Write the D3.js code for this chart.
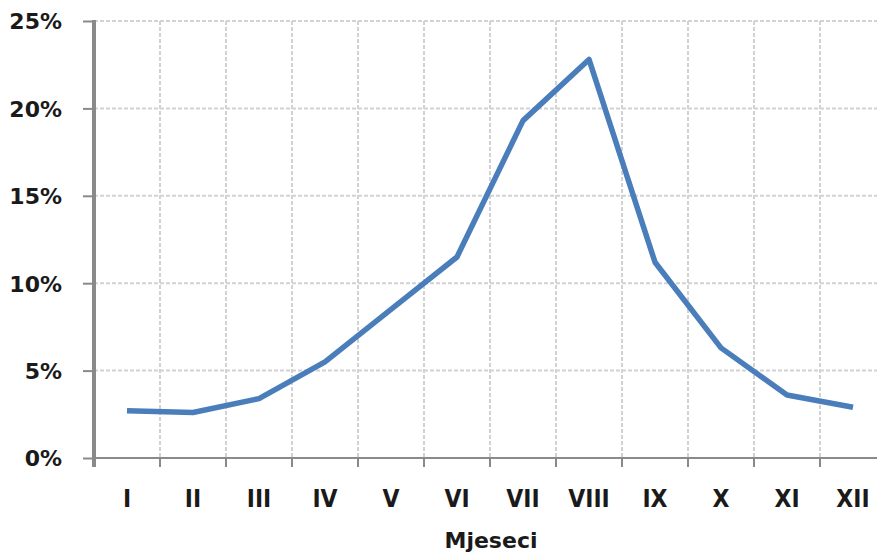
<!DOCTYPE html>
<html>
<head>
<meta charset="utf-8">
<script src="https://cdn.jsdelivr.net/npm/d3@7"></script>
<style>
  html, body { margin: 0; padding: 0; background: #fff; }
  svg { display: block; }
  text { font-family: "DejaVu Sans", sans-serif; font-weight: bold; fill: #1a1a1a; }
</style>
</head>
<body>
<svg id="chart" width="877" height="555"></svg>
<script>
const months = ["I","II","III","IV","V","VI","VII","VIII","IX","X","XI","XII"];
const shares = [2.7, 2.6, 3.4, 5.5, 8.5, 11.5, 19.3, 22.8, 11.2, 6.3, 3.6, 2.9];
const yTicks = [0, 5, 10, 15, 20, 25];
const xTitle = "Mjeseci";

(function () {
const svg = d3.select("#chart");
const mLeft = 94, mRight = 886, mTop = 21, mBottom = 458;

const x = d3.scaleBand().domain(months).range([mLeft, mRight]).padding(0);
const y = d3.scaleLinear().domain([0, 25]).range([mBottom, mTop]);

// horizontal gridlines
svg.append("g").selectAll("line").data(yTicks.filter(d => d > 0)).join("line")
  .attr("x1", mLeft).attr("x2", 877)
  .attr("y1", d => y(d)).attr("y2", d => y(d))
  .attr("stroke", "#d2d2d2").attr("stroke-width", 2).attr("stroke-dasharray", "4,2");

// vertical gridlines at band boundaries
const bounds = months.map(m => x(m) + x.bandwidth());
svg.append("g").selectAll("line").data(bounds).join("line")
  .attr("x1", d => d).attr("x2", d => d)
  .attr("y1", mTop).attr("y2", mBottom)
  .attr("stroke", "#d2d2d2").attr("stroke-width", 2).attr("stroke-dasharray", "4,2");

// y axis
const yAxis = svg.append("g").attr("transform", `translate(${mLeft},0)`)
  .call(d3.axisLeft(y).tickValues(yTicks).tickFormat(d => d + "%").tickSize(11).tickPadding(21));
yAxis.select(".domain").remove();
yAxis.selectAll(".tick line").attr("stroke", "#8a8a8a").attr("stroke-width", 2);
yAxis.selectAll("text").style("font-size", "22px").style("font-family", "DejaVu Sans").style("font-weight", "bold")
  .attr("fill", "#1a1a1a").attr("dy", "0.36em");
svg.append("line").attr("x1", mLeft).attr("x2", mLeft).attr("y1", mTop - 1).attr("y2", mBottom + 9)
  .attr("stroke", "#8a8a8a").attr("stroke-width", 4);

// x axis
svg.append("line").attr("x1", mLeft).attr("x2", 877).attr("y1", mBottom).attr("y2", mBottom)
  .attr("stroke", "#8a8a8a").attr("stroke-width", 2);
svg.append("g").selectAll("line").data(bounds).join("line")
  .attr("x1", d => d).attr("x2", d => d).attr("y1", mBottom).attr("y2", mBottom + 9)
  .attr("stroke", "#8a8a8a").attr("stroke-width", 2);
svg.append("g").selectAll("text").data(months).join("text")
  .attr("x", d => x(d) + x.bandwidth() / 2).attr("y", 507)
  .attr("text-anchor", "middle").style("font-size", "22px")
  .attr("transform", "translate(0,507) scale(1,1.12) translate(0,-507)")
  .text(d => d);

svg.append("text").attr("x", 491).attr("y", 548).attr("text-anchor", "middle")
  .style("font-size", "22px").text(xTitle);

// line
const line = d3.line().x((d, i) => x(months[i]) + x.bandwidth() / 2).y(d => y(d));
svg.append("path").datum(shares).attr("d", line)
  .attr("fill", "none").attr("stroke", "#4a7ebb").attr("stroke-width", 5.5)
  .attr("stroke-linejoin", "round").attr("stroke-linecap", "butt");
})();
</script>
</body>
</html>
